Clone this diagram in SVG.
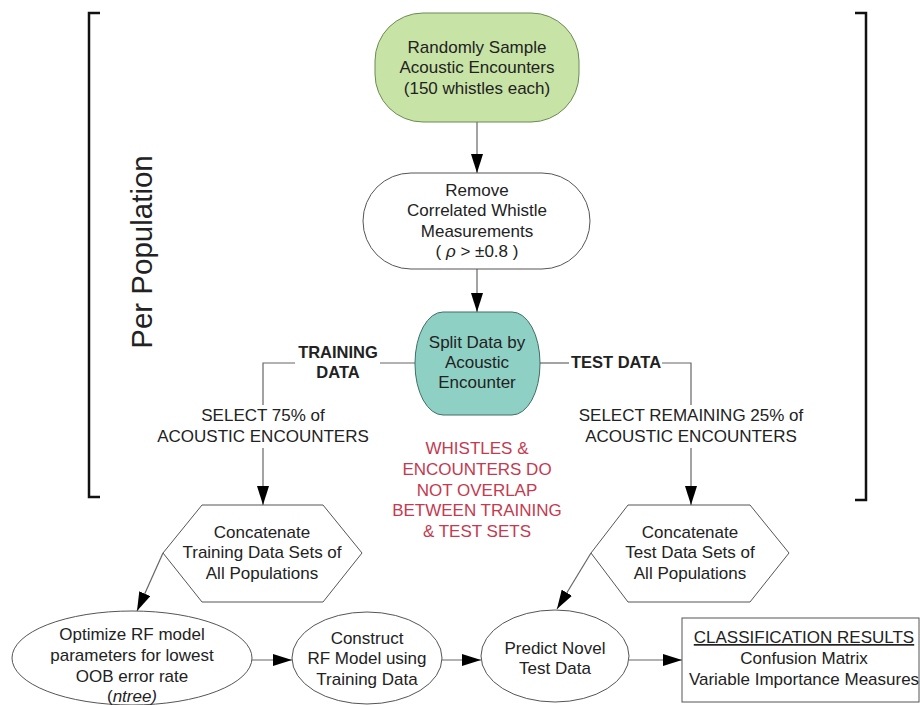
<svg xmlns="http://www.w3.org/2000/svg" width="920" height="705" viewBox="0 0 920 705">
<defs>
<style>
text{font-family:"Liberation Sans",Arial,sans-serif;font-size:17px;fill:#222;text-anchor:middle}
.b{font-weight:bold;font-size:16.5px}
.red{fill:#c43a4f}
.node{stroke:#555;stroke-width:1;fill:#fff}
.conn{stroke:#666;stroke-width:1.2;fill:none}
.br{stroke:#111;stroke-width:2.5;fill:none}
</style>
<marker id="ah" markerUnits="userSpaceOnUse" markerWidth="20" markerHeight="12" refX="19" refY="6" orient="auto">
<path d="M0,0 L19,6 L0,12 z" fill="#000"/>
</marker>
</defs>
<rect width="920" height="705" fill="#fff"/>

<g id="brackets">
<path class="br" d="M100,13 H89 V497 H100"/>
<path class="br" d="M855,13 H866 V500 H855"/>
<text transform="translate(152,252) rotate(-90)" style="font-size:29.5px">Per Population</text>
</g>

<g id="connectors">
<path class="conn" d="M477,122 V173" marker-end="url(#ah)"/>
<path class="conn" d="M477,269 V312" marker-end="url(#ah)"/>
<path class="conn" d="M415,363 H380"/>
<path class="conn" d="M295,363 H263 V405"/>
<path class="conn" d="M263,448 V505" marker-end="url(#ah)"/>
<path class="conn" d="M540,363 H569"/>
<path class="conn" d="M662,363 H691 V405"/>
<path class="conn" d="M691,448 V505" marker-end="url(#ah)"/>
<path class="conn" d="M163,553 L137,611" marker-end="url(#ah)"/>
<path class="conn" d="M591,553 L557,609" marker-end="url(#ah)"/>
<path class="conn" d="M252,660 H292" marker-end="url(#ah)"/>
<path class="conn" d="M442,660 H481" marker-end="url(#ah)"/>
<path class="conn" d="M629,660 H682" marker-end="url(#ah)"/>
<text class="b" x="338" y="358">TRAINING</text>
<text class="b" x="338" y="378">DATA</text>
<text class="b" x="616" y="368">TEST DATA</text>
<text x="263" y="421">SELECT 75% of</text>
<text x="263" y="442">ACOUSTIC ENCOUNTERS</text>
<text x="691" y="421">SELECT REMAINING 25% of</text>
<text x="691" y="442">ACOUSTIC ENCOUNTERS</text>
</g>

<g id="note">
<text class="red" x="477" y="454">WHISTLES &amp;</text>
<text class="red" x="477" y="475">ENCOUNTERS DO</text>
<text class="red" x="477" y="496">NOT OVERLAP</text>
<text class="red" x="477" y="516">BETWEEN TRAINING</text>
<text class="red" x="477" y="537">&amp; TEST SETS</text>
</g>

<g id="sample">
<rect x="375" y="13" width="204" height="109" rx="48" ry="48" fill="#c8e3a6" stroke="#6b8a52" stroke-width="1"/>
<text x="477" y="53">Randomly Sample</text>
<text x="477" y="73">Acoustic Encounters</text>
<text x="477" y="94">(150 whistles each)</text>
</g>

<g id="remove">
<rect class="node" x="363" y="173" width="227" height="96" rx="48" ry="48"/>
<text x="477" y="196">Remove</text>
<text x="477" y="216">Correlated Whistle</text>
<text x="477" y="237">Measurements</text>
<text x="477" y="257">( <tspan font-style="italic">ρ</tspan> &gt; ±0.8 )</text>
</g>

<g id="split">
<rect x="415" y="312" width="125" height="103" rx="28" ry="51" fill="#8fd0c4" stroke="#3f6e66" stroke-width="1"/>
<text x="477" y="348">Split Data by</text>
<text x="477" y="368">Acoustic</text>
<text x="477" y="388">Encounter</text>
</g>

<g id="concat-train">
<polygon class="node" points="163,553 202,505 323,505 362,553 323,602 202,602"/>
<text x="262" y="538">Concatenate</text>
<text x="262" y="558">Training Data Sets of</text>
<text x="262" y="579">All Populations</text>
</g>

<g id="concat-test">
<polygon class="node" points="591,553 628,505 750,505 789,553 750,602 628,602"/>
<text x="690" y="538">Concatenate</text>
<text x="690" y="558">Test Data Sets of</text>
<text x="690" y="579">All Populations</text>
</g>

<g id="optimize">
<ellipse class="node" cx="132" cy="658" rx="120" ry="47"/>
<text x="132" y="640">Optimize RF model</text>
<text x="132" y="661">parameters for lowest</text>
<text x="132" y="682">OOB error rate</text>
<text x="132" y="702">(<tspan font-style="italic">ntree)</tspan></text>
</g>

<g id="construct">
<ellipse class="node" cx="367" cy="658" rx="75" ry="46"/>
<text x="367" y="644">Construct</text>
<text x="367" y="664">RF Model using</text>
<text x="367" y="685">Training Data</text>
</g>

<g id="predict">
<ellipse class="node" cx="555" cy="656" rx="74" ry="46"/>
<text x="555" y="654">Predict Novel</text>
<text x="555" y="674">Test Data</text>
</g>

<g id="results">
<rect class="node" x="682" y="618" width="237" height="84"/>
<text x="804" y="643" text-decoration="underline">CLASSIFICATION RESULTS</text>
<text x="804" y="664">Confusion Matrix</text>
<text x="804" y="685">Variable Importance Measures</text>
</g>
</svg>
